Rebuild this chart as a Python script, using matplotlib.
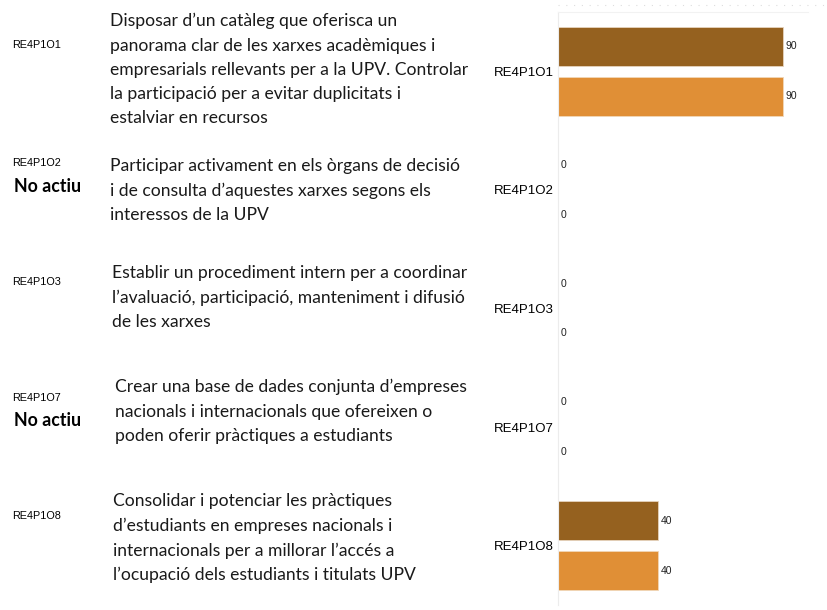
import matplotlib
matplotlib.use("Agg")
import matplotlib.pyplot as plt
from matplotlib.lines import Line2D

# data
categories = ["RE4P1O1", "RE4P1O2", "RE4P1O3", "RE4P1O7", "RE4P1O8"]
serie_a = [90, 0, 0, 0, 40]
serie_b = [90, 0, 0, 0, 40]
actiu = [True, False, True, False, True]
descripcions = [
    "Disposar d\u2019un catàleg que oferisca un\n"
    "panorama clar de les xarxes acadèmiques i\n"
    "empresarials rellevants per a la UPV. Controlar\n"
    "la participació per a evitar duplicitats i\n"
    "estalviar en recursos",
    "Participar activament en els òrgans de decisió\n"
    "i de consulta d\u2019aquestes xarxes segons els\n"
    "interessos de la UPV",
    "Establir un procediment intern per a coordinar\n"
    "l\u2019avaluació, participació, manteniment i difusió\n"
    "de les xarxes",
    "Crear una base de dades conjunta d\u2019empreses\n"
    "nacionals i internacionals que ofereixen o\n"
    "poden oferir pràctiques a estudiants",
    "Consolidar i potenciar les pràctiques\n"
    "d\u2019estudiants en empreses nacionals i\n"
    "internacionals per a millorar l\u2019accés a\n"
    "l\u2019ocupació dels estudiants i titulats UPV",
]

color_a = "#95611f"
color_b = "#e08f36"

W, H = 827, 610
fig = plt.figure(figsize=(W / 100, H / 100), dpi=100)

# axes placed in pixel coordinates
ax_left, ax_right, ax_top, ax_bottom = 558, 808, 12, 605
ax = fig.add_axes([ax_left / W, 1 - ax_bottom / H,
                   (ax_right - ax_left) / W, (ax_bottom - ax_top) / H])

ypos = list(range(len(categories)))
off = 0.21
h = 0.33
ax.barh([y - off for y in ypos], serie_a, height=h, color=color_a,
        edgecolor="#e6d3bd", linewidth=0.6)
ax.barh([y + off for y in ypos], serie_b, height=h, color=color_b,
        edgecolor="#f1d7b8", linewidth=0.6)

for y, va, vb in zip(ypos, serie_a, serie_b):
    ax.text(va + 1.2, y - off, str(va), va="center", ha="left",
            fontsize=7.5, family="Liberation Sans", color="#222222")
    ax.text(vb + 1.2, y + off, str(vb), va="center", ha="left",
            fontsize=7.5, family="Liberation Sans", color="#222222")

ax.set_xlim(0, 100)
ax.set_ylim(len(categories) - 0.5, -0.5)
ax.set_yticks(ypos)
ax.set_yticklabels(categories, fontsize=9.5, family="Liberation Sans")
ax.tick_params(axis="y", length=0, pad=3)
ax.set_xticks([])
for s in ["right", "bottom"]:
    ax.spines[s].set_visible(False)
ax.spines["left"].set_color("#ececec")
ax.spines["top"].set_color("#f2f2f2")

# faint dotted line along the top
fig.add_artist(Line2D([ax_left / W, 1], [1 - 5 / H, 1 - 5 / H],
                      transform=fig.transFigure, color="#dddddd",
                      linestyle=(0, (1, 6)), linewidth=0.8))

# left text panel
code_y = [45, 163, 282, 398, 516]
desc_x = [110, 110, 112, 115, 113]
desc_top = [13, 158, 265, 379, 493]
for i, cat in enumerate(categories):
    fig.text(12 / W, 1 - code_y[i] / H, cat, fontsize=7.8,
             family="Liberation Sans", va="center", ha="left")
    if not actiu[i]:
        fig.text(14 / W, 1 - (code_y[i] + 23) / H, "No actiu",
                 fontsize=12.8, weight="bold", family="Lato",
                 va="center", ha="left")
    fig.text(desc_x[i] / W, 1 - desc_top[i] / H, descripcions[i],
             fontsize=12.6, family="Lato", va="top", ha="left",
             linespacing=1.63, color="#1a1a1a")

fig.savefig("out.png", dpi=100)
